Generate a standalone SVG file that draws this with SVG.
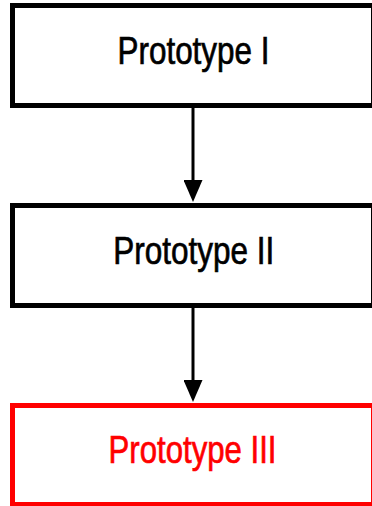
<svg xmlns="http://www.w3.org/2000/svg" width="372" height="506" viewBox="0 0 372 506">
  <defs>
    <style>
      .box { fill: #ffffff; stroke: #000000; stroke-width: 5; }
      .box.hl { stroke: #ff0000; }
      .lbl { font-family: "Liberation Sans", Arial, sans-serif; font-size: 39px; fill: #000000; stroke: #000000; stroke-width: 0.7; text-anchor: middle; }
      .lbl.hl { fill: #ff0000; stroke: #ff0000; }
      .conn { stroke: #000000; stroke-width: 3; fill: none; }
    </style>
    <marker id="arrow" viewBox="0 0 22 19" refX="12" refY="9.5" markerWidth="22" markerHeight="19" markerUnits="userSpaceOnUse" orient="auto">
      <path d="M0,0 L22,9.5 L0,19 Z" fill="#000000"/>
    </marker>
  </defs>
  <rect width="372" height="506" fill="#ffffff"/>
  <g id="connectors">
    <line class="conn" x1="193" y1="108" x2="193" y2="192" marker-end="url(#arrow)"/>
    <line class="conn" x1="193" y1="308" x2="193" y2="392" marker-end="url(#arrow)"/>
  </g>
  <g id="prototype-1">
    <rect class="box" x="12.5" y="5.5" width="361" height="100"/>
    <text class="lbl" x="193.5" y="64.3" textLength="152" lengthAdjust="spacingAndGlyphs">Prototype I</text>
  </g>
  <g id="prototype-2">
    <rect class="box" x="12.5" y="205.5" width="361" height="100"/>
    <text class="lbl" x="193.7" y="264.3" textLength="161" lengthAdjust="spacingAndGlyphs">Prototype II</text>
  </g>
  <g id="prototype-3">
    <rect class="box hl" x="12.5" y="405.5" width="361" height="99"/>
    <text class="lbl hl" x="192.5" y="462.7" textLength="168" lengthAdjust="spacingAndGlyphs">Prototype III</text>
  </g>
</svg>
